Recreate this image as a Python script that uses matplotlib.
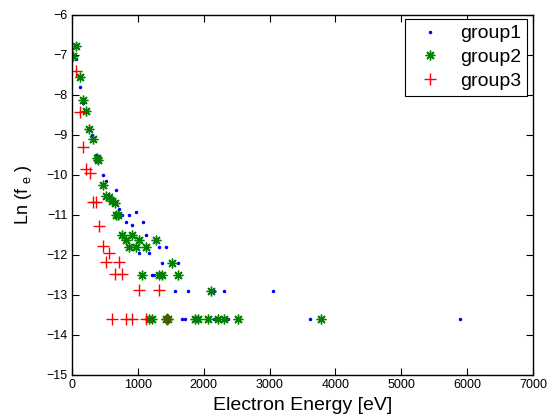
import matplotlib
matplotlib.use('Agg')
import matplotlib.pyplot as plt

# values
g1_energy = [71, 121, 172, 314, 364, 415, 466, 516, 668, 617, 718, 769, 870, 971,
             820, 921, 1073, 1123, 1022, 1174, 1326, 1427, 1362, 1614, 1210, 1245,
             1564, 1766, 2160, 2312, 3056, 1665, 1716, 2044, 2160, 2363, 3613, 5895]
g1_lnf = [-7.1, -7.81, -8.2, -9.0, -9.51, -9.53, -10.0, -10.15, -10.38, -10.6, -10.86,
          -11.0, -11.0, -10.92, -11.17, -11.25, -11.17, -11.5, -11.96, -11.96, -11.8,
          -11.8, -12.2, -12.2, -12.5, -12.5, -12.9, -12.9, -12.9, -12.9, -12.9,
          -13.6, -13.6, -13.6, -13.6, -13.6, -13.6, -13.6]

g2_energy = [71, 20, 121, 172, 223, 263, 324, 375, 405, 466, 526, 566, 617, 653, 668,
             703, 769, 921, 820, 1022, 1275, 870, 971, 1123, 1513, 1065, 1326, 1362,
             1614, 2110, 1174, 1210, 1427, 1462, 1867, 1918, 2069, 2211, 2312, 2515, 3780]
g2_lnf = [-6.77, -7.02, -7.56, -8.12, -8.39, -8.84, -9.09, -9.58, -9.63, -10.25, -10.52,
          -10.56, -10.64, -10.69, -11.0, -11.0, -11.5, -11.5, -11.62, -11.62, -11.62,
          -11.8, -11.8, -11.8, -12.2, -12.5, -12.5, -12.5, -12.5, -12.9,
          -13.6, -13.6, -13.6, -13.6, -13.6, -13.6, -13.6, -13.6, -13.6, -13.6, -13.6]

g3_energy = [60, 121, 172, 213, 273, 324, 364, 420, 466, 567, 516, 718, 660, 769,
             1022, 1318, 617, 820, 921, 1123, 1440]
g3_lnf = [-7.4, -8.43, -9.29, -9.86, -9.96, -10.68, -10.68, -11.28, -11.78, -11.95,
          -12.18, -12.18, -12.48, -12.48, -12.88, -12.88, -13.6, -13.6, -13.6, -13.6, -13.6]

x_ticks = [0, 1000, 2000, 3000, 4000, 5000, 6000, 7000]
y_ticks = [-6, -7, -8, -9, -10, -11, -12, -13, -14, -15]


def main():
    plt.rcParams['font.family'] = ['Liberation Sans', 'DejaVu Sans']

    fig = plt.figure(figsize=(5.48, 4.16), dpi=100)
    ax = fig.add_axes([0.131, 0.0986, 0.842, 0.8654])

    ax.plot(g1_energy, g1_lnf, linestyle='none', marker='.', color='#0000ff',
            markersize=3, label='group1')
    ax.plot(g2_energy, g2_lnf, linestyle='none', marker=(8, 2, 0), color='#008000',
            markersize=7, markeredgewidth=1.0, label='group2')
    ax.plot(g3_energy, g3_lnf, linestyle='none', marker='+', color='#ff0000',
            markersize=8, markeredgewidth=1.0, label='group3')

    ax.set_xlim(0, 7000)
    ax.set_ylim(-15, -6)
    ax.set_xticks(x_ticks)
    ax.set_yticks(y_ticks)
    ax.tick_params(direction='in', top=True, right=True, length=5, width=0.8,
                   labelsize=9, pad=3)
    for sp in ax.spines.values():
        sp.set_linewidth(1.0)

    ax.set_xlabel('Electron Energy [eV]', fontsize=14, labelpad=4)
    ax.set_ylabel('Ln (f $\\mathregular{_e}$ )', fontsize=13, labelpad=9)

    leg = ax.legend(loc='upper right', bbox_to_anchor=(0.987, 0.989), borderaxespad=0,
                    fontsize=14, fancybox=False, edgecolor='black', framealpha=1,
                    handlelength=2.0, handletextpad=0.55, labelspacing=0.32,
                    borderpad=0.3, numpoints=1)
    leg.get_frame().set_linewidth(0.8)

    fig.savefig('out.png', dpi=100)


if __name__ == '__main__':
    main()
